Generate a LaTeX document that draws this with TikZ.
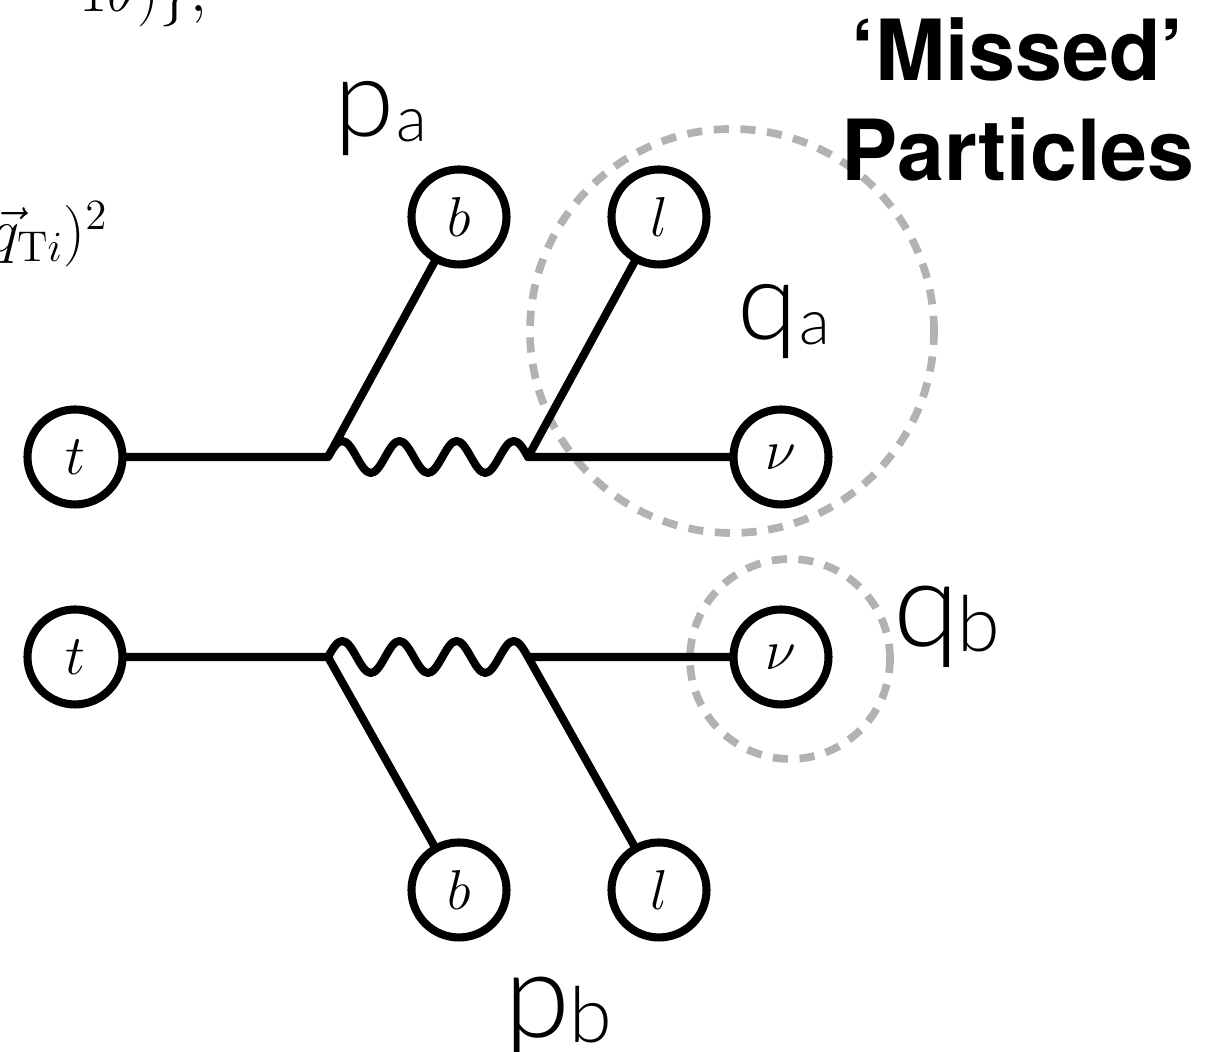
\RequirePackage{fix-cm}
\documentclass[tikz,border=0pt]{standalone}
\usepackage{amsmath,amssymb}
\usepackage{fontspec}
\setsansfont{TeX Gyre Heros}
\newfontfamily\lightsans{Lato Light}
\usepackage{tikz}

\definecolor{missgray}{RGB}{178,178,178}
% momentum label: size, letter, subscript size, subscript, kern
\newcommand{\momlabel}[5]{{\lightsans\fontsize{#1pt}{#1pt}\selectfont #2\kern#5pt\raisebox{-1.3pt}{\fontsize{#3pt}{#3pt}\selectfont #4}}}

\begin{document}
\begin{tikzpicture}[
  particle/.style={circle,draw,line width=2.3pt,minimum size=0.95cm,inner sep=0pt,font=\fontsize{16pt}{16pt}\selectfont},
  leg/.style={line width=2.3pt,line cap=round,line join=round},
  missed/.style={circle,draw=missgray,line width=2.2pt,dash pattern=on 4.3pt off 3.3pt,inner sep=0pt}]
\useasboundingbox (0,0) rectangle (12.17,10.52);

% cut-off formulas of the slide
\node[anchor=base west,inner sep=0,font=\fontsize{17.5pt}{20pt}\selectfont] (cuttop) at (0.79,10.40) {$1\theta)\},$};
\node[anchor=base east,inner sep=0,font=\fontsize{17.5pt}{20pt}\selectfont] (cutleft) at (1.09,8.00) {$(\vec{q}_{\mathrm{T}i})^2$};

% missed particles
\node[missed,minimum size=4.04cm] (qaring) at (7.32,7.21) {};
\node[missed,minimum size=2.00cm] (qbring) at (7.90,3.93) {};

% upper decay chain
\node[particle] (ta) at (0.75,5.95) {$t$};
\node[particle] (ba) at (4.59,8.35) {$b$};
\node[particle] (la) at (6.59,8.35) {$l$};
\node[particle] (nua) at (7.81,5.95) {$\nu$};
\coordinate (va1) at (3.28,5.95);
\coordinate (va2) at (5.28,5.95);
\draw[leg] (ta) -- (va1) -- (ba);
\draw[leg] (va1) \foreach \k in {1,2,3}{ sin ++(.1429,.16) cos ++(.1429,-.16) sin ++(.1429,-.16) cos ++(.1429,.16)} sin ++(.1429,.16) cos ++(.1429,-.16);
\draw[leg] (la) -- (va2) -- (nua);

% lower decay chain
\node[particle] (tb) at (0.75,3.95) {$t$};
\node[particle] (bb) at (4.59,1.62) {$b$};
\node[particle] (lb) at (6.59,1.62) {$l$};
\node[particle] (nub) at (7.81,3.95) {$\nu$};
\coordinate (vb1) at (3.28,3.95);
\coordinate (vb2) at (5.28,3.95);
\draw[leg] (tb) -- (vb1) -- (bb);
\draw[leg] (vb1) \foreach \k in {1,2,3}{ sin ++(.1429,.16) cos ++(.1429,-.16) sin ++(.1429,-.16) cos ++(.1429,.16)} sin ++(.1429,.16) cos ++(.1429,-.16);
\draw[leg] (lb) -- (vb2) -- (nub);

% labels
\node[anchor=base west,inner sep=0] (pa) at (3.34,9.15) {\momlabel{31}{p}{18}{a}{0.5}};
\node[anchor=base west,inner sep=0] (qa) at (7.37,7.12) {\momlabel{31}{q}{18}{a}{0.5}};
\node[anchor=base west,inner sep=0] (pb) at (5.04,0.14) {\momlabel{34}{p}{22}{b}{-0.3}};
\node[anchor=base west,inner sep=0] (qb) at (8.93,4.05) {\momlabel{34}{q}{22}{b}{-0.5}};
\node[anchor=north,align=center,inner sep=0,font=\sffamily\bfseries\fontsize{24pt}{28.4pt}\selectfont] (missedtxt) at (10.18,10.35) {‘Missed’\\Particles};
\end{tikzpicture}
\end{document}
